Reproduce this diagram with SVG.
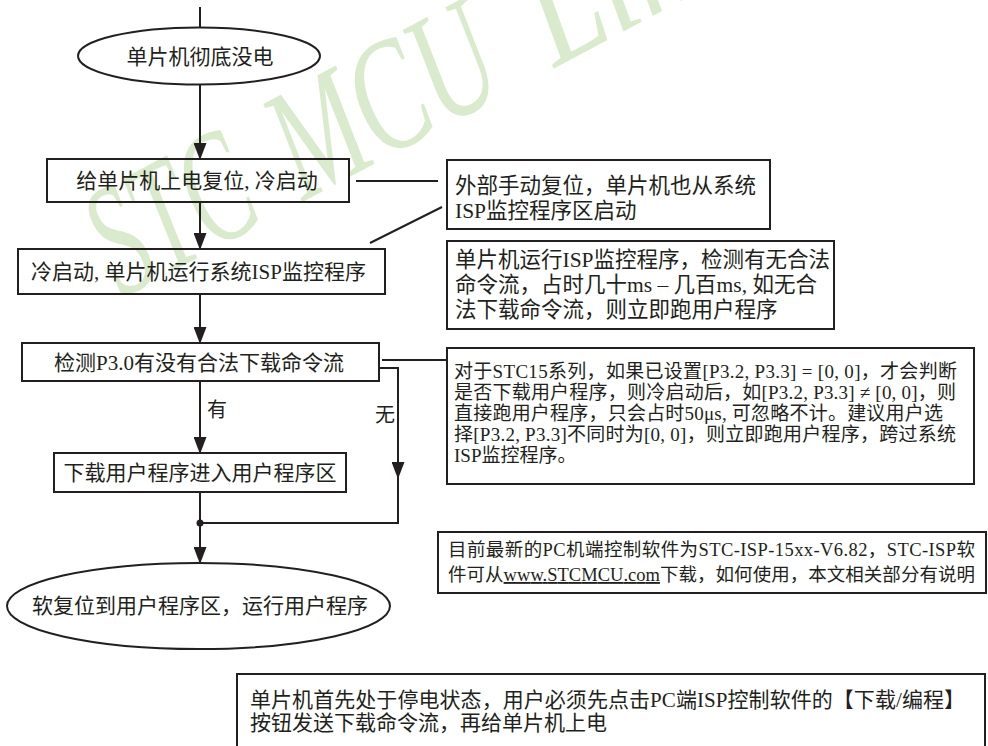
<svg xmlns="http://www.w3.org/2000/svg" width="988" height="746" viewBox="0 0 988 746">
<defs>
<marker id="arr" markerUnits="userSpaceOnUse" markerWidth="17" markerHeight="13" refX="16" refY="6.5" orient="auto"><path d="M0,0 L17,6.5 L0,13 z" fill="#231f20"/></marker>
</defs>
<style>
.t{font-family:'Liberation Serif','Noto Sans CJK SC',serif;fill:#231f20}
.n{fill:none;stroke:#231f20;stroke-width:2}
.c{fill:none;stroke:#231f20;stroke-width:2}
.ca{fill:none;stroke:#231f20;stroke-width:2;marker-end:url(#arr)}
.f21{font-size:21px}
.f215{font-size:21.5px}
.f19{font-size:19px}
.f185{font-size:18.5px}
.m{text-anchor:middle}
.wm{font-family:'Liberation Serif',serif;font-style:italic;font-size:160px;fill:#d9ebcc}
</style>
<rect width="988" height="746" fill="#fff"/>
<g id="watermark" transform="translate(122,298) rotate(-28)">
<text class="wm" x="0" y="0" textLength="165" lengthAdjust="spacingAndGlyphs">STC</text>
<text class="wm" x="205" y="0" textLength="235" lengthAdjust="spacingAndGlyphs">MCU</text>
<text class="wm" x="490" y="0" textLength="390" lengthAdjust="spacingAndGlyphs">Limited</text>
</g>
<g id="connectors">
<path class="c" d="M200,7 V27.5"/>
<path class="ca" d="M200,85 V159"/>
<path class="ca" d="M200,202 V249"/>
<path class="ca" d="M200,294 V343"/>
<path class="ca" d="M200,381 V453"/>
<path class="ca" d="M200,492 V563"/>
<path class="ca" d="M379,368 H398 V478"/>
<path class="c" d="M398,477 V523 H200"/>
<circle cx="200" cy="523" r="3.5" fill="#231f20"/>
<path class="c" d="M356,181 H438"/>
<path class="c" d="M370,243 L442,207"/>
<path class="c" d="M382,360 H447"/>
<text class="t" x="207" y="417" font-size="20">有</text>
<text class="t" x="375" y="422" font-size="20">无</text>
</g>
<g id="n_off">
<ellipse class="n" cx="199" cy="56" rx="121" ry="28.5"/>
<text class="t f21 m" x="200" y="64">单片机彻底没电</text>
</g>
<g id="n_power">
<rect class="n" x="47" y="159" width="302" height="43"/>
<text class="t f21 m" x="197" y="188">给单片机上电复位, 冷启动</text>
</g>
<g id="n_cold">
<rect class="n" x="18" y="249" width="367" height="45"/>
<text class="t f21 m" x="198.5" y="279">冷启动, 单片机运行系统ISP监控程序</text>
</g>
<g id="n_detect">
<rect class="n" x="22" y="343" width="357" height="38"/>
<text class="t f21 m" x="199" y="370">检测P3.0有没有合法下载命令流</text>
</g>
<g id="n_download">
<rect class="n" x="54" y="453" width="292" height="39"/>
<text class="t f21 m" x="200" y="480">下载用户程序进入用户程序区</text>
</g>
<g id="n_run">
<ellipse class="n" cx="198.5" cy="606" rx="191.5" ry="43"/>
<text class="t f21 m" x="200" y="613">软复位到用户程序区，运行用户程序</text>
</g>
<g id="note_reset">
<rect class="n" x="447" y="160" width="323" height="69"/>
<text class="t f215" x="455" y="193">外部手动复位，单片机也从系统</text>
<text class="t f215" x="455" y="218">ISP监控程序区启动</text>
</g>
<g id="note_isp">
<rect class="n" x="447" y="241" width="387" height="88"/>
<text class="t f215" x="455" y="267">单片机运行ISP监控程序，检测有无合法</text>
<text class="t f215" x="455" y="292">命令流，占时几十ms – 几百ms, 如无合</text>
<text class="t f215" x="455" y="317">法下载命令流，则立即跑用户程序</text>
</g>
<g id="note_stc15">
<rect class="n" x="447" y="348" width="527" height="136"/>
<text class="t f19" x="454" y="378" textLength="503">对于STC15系列，如果已设置[P3.2, P3.3] = [0, 0]，才会判断</text>
<text class="t f19" x="454" y="399" textLength="502">是否下载用户程序，则冷启动后，如[P3.2, P3.3] ≠ [0, 0]，则</text>
<text class="t f19" x="454" y="420" textLength="489">直接跑用户程序，只会占时50μs, 可忽略不计。建议用户选</text>
<text class="t f19" x="454" y="441" textLength="502">择[P3.2, P3.3]不同时为[0, 0]，则立即跑用户程序，跨过系统</text>
<text class="t f19" x="454" y="462">ISP监控程序。</text>
</g>
<g id="note_pc">
<rect class="n" x="438" y="532" width="548" height="61"/>
<text class="t f185" x="448" y="556" textLength="527">目前最新的PC机端控制软件为STC-ISP-15xx-V6.82，STC-ISP软</text>
<text class="t f185" x="448" y="581" textLength="527">件可从<tspan text-decoration="underline">www.STCMCU.com</tspan>下载，如何使用，本文相关部分有说明</text>
</g>
<g id="note_first">
<rect class="n" x="237" y="674" width="748" height="100"/>
<text class="t f21" x="250" y="707" textLength="715">单片机首先处于停电状态，用户必须先点击PC端ISP控制软件的【下载/编程】</text>
<text class="t f21" x="250" y="730">按钮发送下载命令流，再给单片机上电</text>
</g>
</svg>
